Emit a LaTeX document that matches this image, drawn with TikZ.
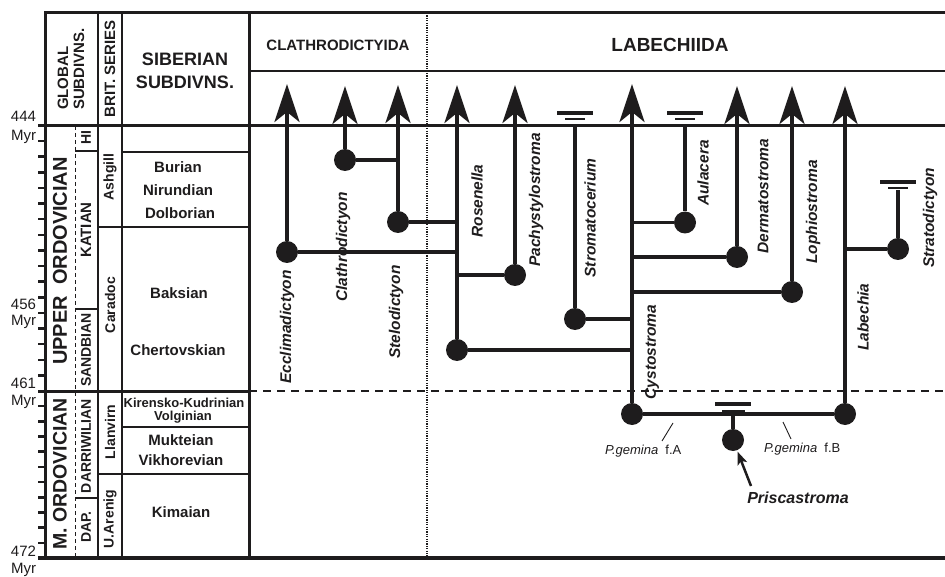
\documentclass[tikz,border=0pt]{standalone}
\usepackage{fontspec}
\setmainfont{Liberation Sans}
\usetikzlibrary{arrows.meta}
\definecolor{ink}{RGB}{30,28,29}
\newcommand\myfs[1]{\fontsize{#1}{#1}\selectfont}
\begin{document}
\begin{tikzpicture}[x=1pt,y=-1pt,
  every node/.style={inner sep=0pt, outer sep=0pt, text=ink},
  rule/.style={draw=ink, line width=#1}, rule/.default=2pt,
  tickmark/.style={draw=ink, line width=2.5pt},
  scalelbl/.style={anchor=base east, font=\myfs{15}},
  rothead/.style={rotate=90, font=\bfseries\myfs{#1}}, rothead/.default=15,
  sibl/.style={font=\bfseries\myfs{#1}}, sibl/.default=15,
  genus/.style={rotate=90, font=\bfseries\itshape\myfs{15.5}},
  dot/.style={circle, fill=ink, minimum size=22pt},
  lin/.style={draw=ink, line width=3.5pt},
  hlin/.style={draw=ink, line width=3.2pt},
  arr/.style={-{Stealth[length=38pt,width=25pt,inset=10pt]}},
  barthick/.style={draw=ink, line width=4pt},
  barthin/.style={draw=ink, line width=2pt},
  leader/.style={draw=ink, line width=0.9pt}
]
\useasboundingbox (0,0) rectangle (945,577);

% ---------- frame ----------
\draw[rule=3pt] (945,13) -- (45,13) -- (45,558);
\draw[rule=2pt] (98,13) -- (98,558);
\draw[rule=2.5pt] (122,13) -- (122,558);
\draw[rule=3pt] (249,13) -- (249,558);
\draw[draw=ink, line width=1.2pt, dash pattern=on 1.3pt off 1.1pt] (427,13) -- (427,558);
\draw[rule=2pt] (249,71) -- (945,71);
\draw[rule=3pt] (38,126) -- (945,126);
\draw[rule=3pt] (38,391) -- (249,391);
\draw[draw=ink, line width=1.6pt, dash pattern=on 8pt off 6pt] (249,391) -- (945,391);
\draw[rule=4pt] (38,558) -- (945,558);
\draw[draw=ink, line width=1pt, dash pattern=on 4pt off 3pt] (75,126) -- (75,558);
% stage boundaries
\draw[rule=2pt] (75,151) -- (98,151);
\draw[rule=2.5pt] (75,309) -- (98,309);
\draw[rule=1.5pt] (75,498) -- (98,498);
\draw[rule=2pt] (98,227) -- (249,227);
\draw[rule=2pt] (122,152) -- (249,152);
\draw[rule=2pt] (122,427) -- (249,427);
\draw[rule=2pt] (98,474) -- (249,474);

% ---------- time scale ----------
\foreach \m in {1,...,16} \draw[tickmark] (38,{125.5+15.62*\m}) -- (45,{125.5+15.62*\m});
\foreach \m in {1,...,10} \draw[tickmark] (38,{391+15.18*\m}) -- (45,{391+15.18*\m});
\node[scalelbl] (a444) at (36,122) {444};
\node[scalelbl] (m444) at (36,140.5) {Myr};
\node[scalelbl] (a456) at (36,310) {456};
\node[scalelbl] (m456) at (36,326) {Myr};
\node[scalelbl] (a461) at (36,388.5) {461};
\node[scalelbl] (m461) at (36,405) {Myr};
\node[scalelbl] (a472) at (36,556.5) {472};
\node[scalelbl] (m472) at (36,573) {Myr};

% ---------- left headers ----------
\node[rotate=90, anchor=west, align=left, font=\bfseries\fontsize{15}{16}\selectfont] (glob) at (71,110) {GLOBAL\\SUBDIVNS.};
\node[rothead] (brit) at (110,69) {BRIT. SERIES};
\node[align=center, font=\bfseries\fontsize{18}{23}\selectfont] (sibh) at (185,70.5) {SIBERIAN\\SUBDIVNS.};

\node[rothead=20] (uord) at (60,261) {UPPER\ \ ORDOVICIAN};
\node[rothead=19.5] (mord) at (60,474) {M. ORDOVICIAN};
\node[rothead=14] (hi) at (86,138) {HI};
\node[rothead] (kat) at (86,230) {KATIAN};
\node[rothead=14] (sand) at (86,350) {SANDBIAN};
\node[rothead=14] (darr) at (86,446) {DARRIWILIAN};
\node[rothead=14] (dap) at (86,527) {DAP.};

\node[rothead=14] (ash) at (110,177) {Ashgill};
\node[rothead=14] (car) at (110,305) {Caradoc};
\node[rothead=14] (lla) at (110,432) {Llanvirn};
\node[rothead=14] (are) at (110,519) {U.Arenig};

\node[sibl] (bur) at (178,167) {Burian};
\node[sibl] (nir) at (178,190) {Nirundian};
\node[sibl] (dol) at (180,213) {Dolborian};
\node[sibl] (bak) at (179,293) {Baksian};
\node[sibl] (che) at (178,350) {Chertovskian};
\node[sibl=13] (kir) at (184,403) {Kirensko-Kudrinian};
\node[sibl=13] (vol) at (183,417) {Volginian};
\node[sibl] (muk) at (181,440) {Mukteian};
\node[sibl] (vik) at (181,460) {Vikhorevian};
\node[sibl] (kim) at (181,512) {Kimaian};

% ---------- order headers ----------
\node[font=\bfseries\myfs{15}] (clh) at (338,45) {CLATHRODICTYIDA};
\node[font=\bfseries\myfs{19}] (lah) at (670,45) {LABECHIIDA};

% ---------- genus labels ----------
\node[genus] (gEc) at (287,327) {Ecclimadictyon};
\node[genus] (gCl) at (343,247) {Clathrodictyon};
\node[genus] (gSt) at (396,312) {Stelodictyon};
\node[genus] (gRo) at (477,201) {Rosenella};
\node[genus] (gPa) at (536,200) {Pachystylostroma};
\node[genus] (gSm) at (590,218) {Stromatocerium};
\node[genus] (gCy) at (652,352) {Cystostroma};
\node[genus] (gAu) at (703,173) {Aulacera};
\node[genus] (gDe) at (763,196) {Dermatostroma};
\node[genus] (gLo) at (813,212) {Lophiostroma};
\node[genus] (gLa) at (863,317) {Labechia};
\node[genus] (gSr) at (930,218) {Stratodictyon};

% ---------- dots ----------
\node[dot] (dEc) at (287,252) {};
\node[dot] (dCl) at (345,160) {};
\node[dot] (dSt) at (398,222) {};
\node[dot] (dRo) at (457,350) {};
\node[dot] (dPa) at (515,275) {};
\node[dot] (dSm) at (575,319) {};
\node[dot] (dCy) at (632,414) {};
\node[dot] (dAu) at (685,222.5) {};
\node[dot] (dDe) at (737,257) {};
\node[dot] (dLo) at (792,292) {};
\node[dot] (dLa) at (845,414) {};
\node[dot] (dSr) at (898,249) {};
\node[dot] (dPr) at (733,440) {};

% ---------- coordinates ----------
\coordinate (tEc) at (287,84);
\coordinate (tCl) at (345,86);
\coordinate (tSt) at (398,85);
\coordinate (tRo) at (457,85);
\coordinate (tPa) at (515,85);
\coordinate (tCy) at (632,84);
\coordinate (tDe) at (737,86);
\coordinate (tLo) at (792,86);
\coordinate (tLa) at (845,86);
\coordinate (eSm) at (575,127);
\coordinate (eAu) at (685,127);
\coordinate (eSr) at (898,190);
\coordinate (jEc) at (457,252);
\coordinate (jCl) at (398,160);
\coordinate (jSt) at (457,222);
\coordinate (jPa) at (457,275);
\coordinate (jRo) at (632,350);
\coordinate (jSm) at (632,319);
\coordinate (jAu) at (632,222.5);
\coordinate (jDe) at (632,257);
\coordinate (jLo) at (632,292);
\coordinate (jSr) at (845,249);
\coordinate (jPr) at (733,414);

% ---------- lineages ----------
\draw[lin, arr] (dEc) -- (tEc);
\draw[lin, arr] (dCl) -- (tCl);
\draw[lin, arr] (dSt) -- (tSt);
\draw[lin, arr] (dRo) -- (tRo);
\draw[lin, arr] (dPa) -- (tPa);
\draw[lin, arr] (dCy) -- (tCy);
\draw[lin, arr] (dDe) -- (tDe);
\draw[lin, arr] (dLo) -- (tLo);
\draw[lin, arr] (dLa) -- (tLa);
\draw[lin] (dSm) -- (eSm);
\draw[lin] (dAu) -- (eAu);
\draw[lin] (dSr) -- (eSr);
\draw[lin] (dPr) -- (jPr);

\draw[hlin] (dEc) -- (jEc);
\draw[hlin] (dCl) -- (jCl);
\draw[hlin] (dSt) -- (jSt);
\draw[hlin] (jPa) -- (dPa);
\draw[hlin] (dRo) -- (jRo);
\draw[hlin] (dSm) -- (jSm);
\draw[hlin] (jAu) -- (dAu);
\draw[hlin] (jDe) -- (dDe);
\draw[hlin] (jLo) -- (dLo);
\draw[hlin] (jSr) -- (dSr);
\draw[hlin] (dCy) -- (dLa);

% ---------- extinction bars ----------
\draw[barthick] (557,113.5) -- (593,113.5);
\draw[barthin] (565,119) -- (585,119);
\draw[barthick] (667,113.5) -- (703,113.5);
\draw[barthin] (675,119) -- (695,119);
\draw[barthick] (880,182) -- (916,182);
\draw[barthin] (888,188.5) -- (908,188.5);
\draw[barthick] (715,404) -- (751,404);
\draw[barthin] (722,410.5) -- (745,410.5);

% ---------- Priscastroma ----------
\node[anchor=base west, font=\myfs{13}] (pgA) at (605,454) {\textit{P.gemina}\ \ f.A};
\node[anchor=base west, font=\myfs{13}] (pgB) at (764,452) {\textit{P.gemina}\ \ f.B};
\coordinate (lA1) at (662,441);
\coordinate (lA2) at (673,423);
\coordinate (lB1) at (783,422);
\coordinate (lB2) at (791,439);
\draw[leader] (lA1) -- (lA2);
\draw[leader] (lB1) -- (lB2);
\node[font=\bfseries\itshape\myfs{16}] (prisc) at (798,498) {Priscastroma};
\coordinate (pa) at (751,486);
\draw[draw=ink, line width=2.5pt, shorten >=1.5pt, -{Stealth[length=13pt,width=10pt,inset=3pt]}] (pa) -- (dPr);

\end{tikzpicture}
\end{document}
